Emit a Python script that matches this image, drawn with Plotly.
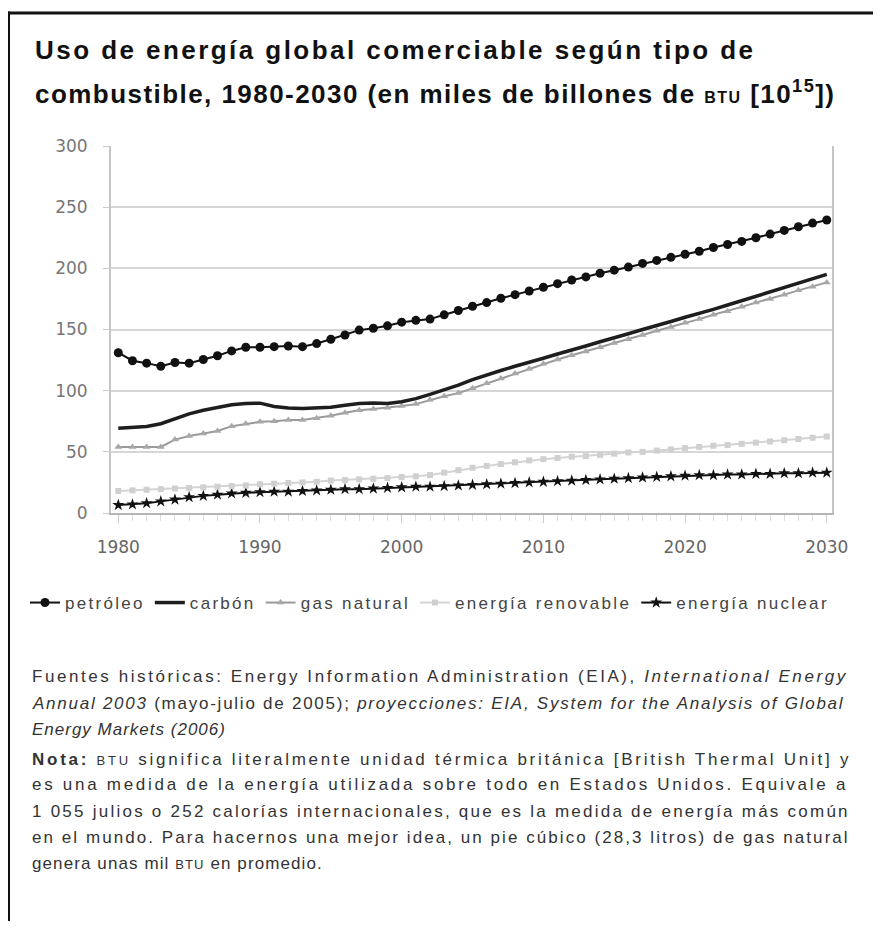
import plotly.graph_objects as go

years = list(range(1980, 2031))

petroleo = [131, 124.5, 122.5, 120, 123, 122.5, 125.5, 128.5, 132.5, 135.5,
            135.5, 136, 136.5, 136, 138.5, 142, 145.5, 149.5, 151, 153,
            156, 157.5, 158.5, 162, 165.5, 169, 172, 175.5, 178.5, 181.5,
            184.5, 187.5, 190.5, 193, 196, 198.5, 201, 204, 206.5, 209,
            211.5, 214, 217, 219.5, 222, 225, 228, 231, 234, 237, 239.5]

carbon = [69.3, 69.8, 70.7, 73, 77, 81, 84, 86.5, 88.5, 89.5,
          89.8, 87, 85.8, 85.5, 85.8, 86.5, 88, 89.5, 90, 89.5,
          91, 93.5, 97, 100.5, 104.5, 109, 113, 116.5, 120, 123,
          126.5, 130, 133, 136.5, 140, 143, 146.5, 150, 153, 156.5,
          160, 163, 166.5, 170, 173.5, 177, 180.5, 184, 187.5, 191, 195]

gas_natural = [54, 54, 54, 54, 60, 63, 65, 67, 71, 73,
               74.5, 75, 76, 76, 77.5, 79.5, 82, 84, 85, 86,
               87.5, 89, 92.5, 95.5, 98, 102, 106, 110, 114, 118,
               122, 125.5, 129, 132, 135.5, 139, 142, 145.5, 149, 152,
               155.5, 158.5, 162, 165, 168.5, 172, 175, 178.5, 182, 185, 188.5]

renovable = [18, 18.5, 19, 19.5, 20, 20.5, 21, 21.5, 22, 22.5,
             23.5, 24, 24.5, 25, 25.5, 26.5, 27, 27.5, 28, 28.5,
             29.5, 30, 31, 33, 35, 37, 38.5, 40, 41.5, 43,
             44, 45, 46, 46.5, 47.5, 48.5, 49.5, 50, 51, 52,
             53, 54, 55, 55.5, 56.5, 57.5, 58.5, 59.5, 60.5, 61.5, 62.5]

nuclear = [6.5, 7, 8, 9.5, 11, 13, 14, 15, 16, 16.5,
           17, 17.5, 17.5, 18, 18.5, 19, 19.5, 19.5, 20, 20.5,
           21, 21.5, 21.5, 22, 22.5, 23, 23.5, 24, 24.5, 25,
           25.5, 26, 26.5, 27, 27.5, 28, 28.5, 29, 29.5, 30,
           30.5, 31, 31, 31.5, 31.5, 32, 32, 32.5, 32.5, 33, 33]

series_names = ["petróleo", "carbón", "gas natural", "energía renovable", "energía nuclear"]
x_ticks = [1980, 1990, 2000, 2010, 2020, 2030]
y_ticks = [0, 50, 100, 150, 200, 250, 300]

title_lines = [
    "Uso de energía global comerciable según tipo de",
    "combustible, 1980-2030 (en miles de billones de <span style='font-size:16px'>BTU</span> [10<sup>15</sup>])",
]
title_spacing = [2.45, 1.45]

note_lines = [
    "Fuentes históricas: Energy Information Administration (EIA), <i>International Energy</i>",
    "<i>Annual 2003</i> (mayo-julio de 2005); <i>proyecciones: EIA, System for the Analysis of Global</i>",
    "<i>Energy Markets (2006)</i>",
    "<b>Nota:</b> <span style='font-size:13px'>BTU</span> significa literalmente unidad térmica británica [British Thermal Unit] y",
    "es una medida de la energía utilizada sobre todo en Estados Unidos. Equivale a",
    "1 055 julios o 252 calorías internacionales, que es la medida de energía más común",
    "en el mundo. Para hacernos una mejor idea, un pie cúbico (28,3 litros) de gas natural",
    "genera unas mil <span style='font-size:13px'>BTU</span> en promedio.",
]
note_y = [676, 703, 729, 759, 785, 811, 837, 863]
note_spacing = [2.57, 1.75, 1.0, 2.74, 2.72, 2.24, 2.06, 1.1]

# screen coordinates (page has 8px body margin)
OFF = 8
W, H = 865, 913
L, R, T, B = 111, 832, 146, 513


def px_x(p):
    return (p - L) / (R - L)


def px_y(p):
    return (B - p) / (B - T)


def spaced(txt, ls):
    return "<span style='letter-spacing:%spx'>%s</span>" % (ls, txt)


LEG_LS = 2.3
fig = go.Figure()
fig.add_trace(go.Scatter(x=years, y=nuclear, name=spaced(series_names[4], LEG_LS), mode="lines+markers",
                         line=dict(color="#111111", width=2),
                         marker=dict(symbol="star", size=9, color="#111111")))
fig.add_trace(go.Scatter(x=years, y=renovable, name=spaced(series_names[3], LEG_LS), mode="lines+markers",
                         line=dict(color="#d4d4d4", width=2),
                         marker=dict(symbol="square", size=6, color="#d0d0d0")))
fig.add_trace(go.Scatter(x=years, y=gas_natural, name=spaced(series_names[2], LEG_LS), mode="lines+markers",
                         line=dict(color="#9a9a9a", width=2),
                         marker=dict(symbol="triangle-up", size=7, color="#a8a8a8")))
fig.add_trace(go.Scatter(x=years, y=carbon, name=spaced(series_names[1], LEG_LS), mode="lines",
                         line=dict(color="#1e1e1e", width=3.5)))
fig.add_trace(go.Scatter(x=years, y=petroleo, name=spaced(series_names[0], LEG_LS), mode="lines+markers",
                         line=dict(color="#111111", width=2),
                         marker=dict(symbol="circle", size=9, color="#111111")))

annotations = []
for txt, yy, ls in zip(title_lines, [50, 92], title_spacing):
    annotations.append(dict(text="<b>" + spaced(txt, ls) + "</b>", xref="paper", yref="paper",
                            x=px_x(33), y=px_y(yy), xanchor="left", yanchor="middle", showarrow=False,
                            font=dict(family="Liberation Sans", size=26, color="#111")))
for txt, yy, ls in zip(note_lines, note_y, note_spacing):
    annotations.append(dict(text=spaced(txt, ls), xref="paper", yref="paper", x=px_x(30), y=px_y(yy),
                            xanchor="left", yanchor="middle", showarrow=False,
                            font=dict(family="Liberation Sans", size=17, color="#333")))

shapes = [
    dict(type="line", xref="paper", yref="paper", x0=px_x(5), x1=px_x(890), y0=px_y(13), y1=px_y(13),
         line=dict(color="#111", width=3)),
    dict(type="line", xref="paper", yref="paper", x0=px_x(8.5), x1=px_x(8.5), y0=px_y(11.5), y1=px_y(940),
         line=dict(color="#111", width=3)),
]

fig.update_layout(
    width=W, height=H,
    margin=dict(l=L - OFF, r=W - (R - OFF), t=T - OFF, b=H - (B - OFF)),
    paper_bgcolor="white", plot_bgcolor="white",
    font=dict(family="Liberation Sans", color="#444"),
    showlegend=True,
    legend=dict(orientation="h", x=px_x(25), y=px_y(603), xanchor="left", yanchor="middle",
                font=dict(size=17, color="#444"), itemwidth=30, traceorder="reversed",
                bgcolor="rgba(0,0,0,0)"),
    annotations=annotations,
    shapes=shapes,
    xaxis=dict(range=[1979.485, 2030.37], tickvals=x_ticks, showgrid=False, zeroline=False,
               showline=True, linecolor="#b5b5b5", linewidth=2,
               ticks="outside", ticklen=8, tickcolor="#cccccc", tickwidth=1,
               minor=dict(dtick=1, ticks="outside", ticklen=6, tickcolor="#dddddd"),
               tickfont=dict(family="DejaVu Sans", size=17, color="#666"), ticklabelstandoff=10),
    yaxis=dict(range=[0, 300], tickvals=y_ticks, showgrid=True, gridcolor="#d6d6d6", gridwidth=2,
               zeroline=False, showline=True, linecolor="#c5c5c5", linewidth=2, mirror=True,
               ticks="outside", ticklen=6, tickcolor="#cccccc",
               tickfont=dict(family="DejaVu Sans", size=17, color="#777"), ticklabelstandoff=12),
)

fig.write_html("out.html")
